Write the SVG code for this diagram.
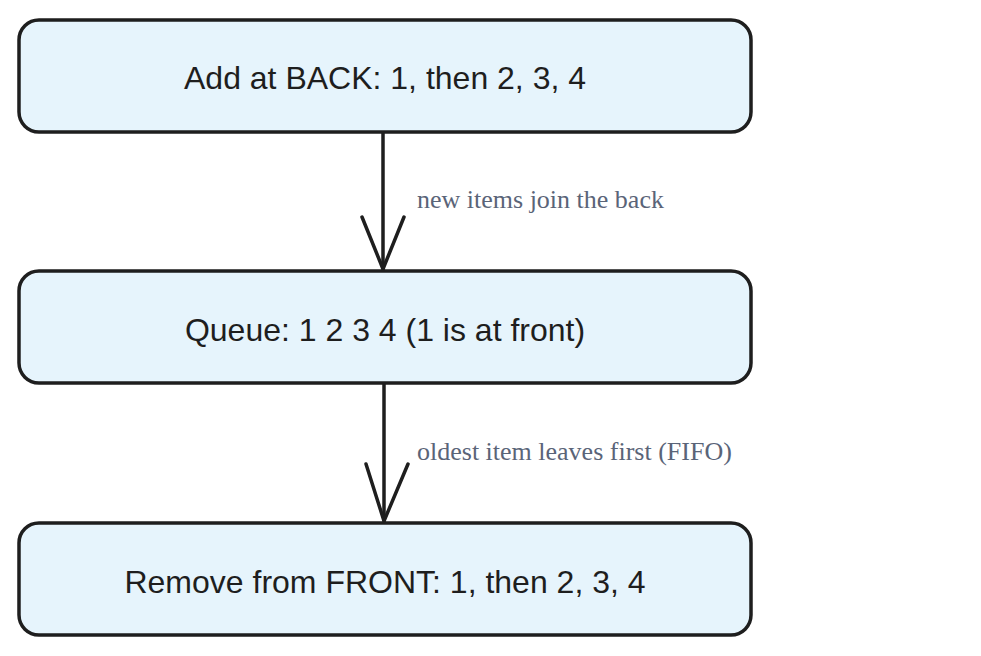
<svg xmlns="http://www.w3.org/2000/svg" width="981" height="656" viewBox="0 0 981 656">
<style>
.box{fill:#e6f4fc;stroke:#1e1e1e;stroke-width:3.5;stroke-linejoin:round;stroke-linecap:round}
.t{font-family:"Liberation Sans",Arial,sans-serif;font-size:32px;fill:#1e1e1e;text-anchor:middle}
.lbl{font-family:"Liberation Serif","Times New Roman",serif;font-size:26px;fill:#5a6478}
.ln{fill:none;stroke:#1e1e1e;stroke-width:3.5;stroke-linecap:round;stroke-linejoin:round}
</style>
<rect width="981" height="656" fill="#ffffff"/>
<g id="connectors">
<g id="e1">
<path class="ln" d="M383 132 L383 269"/>
<path class="ln" d="M362 217 L383 269 L404 217"/>
<text class="lbl" x="417" y="208">new items join the back</text>
</g>
<g id="e2">
<path class="ln" d="M384 382 L384 521"/>
<path class="ln" d="M366 464 L384 521 L408 464"/>
<text class="lbl" x="417" y="460">oldest item leaves first (FIFO)</text>
</g>
</g>
<g id="n1">
<rect class="box" x="19" y="20" width="732" height="112" rx="20"/>
<text class="t" x="385" y="89">Add at BACK: 1, then 2, 3, 4</text>
</g>
<g id="n2">
<rect class="box" x="19" y="271" width="732" height="112" rx="20"/>
<text class="t" x="385" y="341">Queue: 1 2 3 4 (1 is at front)</text>
</g>
<g id="n3">
<rect class="box" x="19" y="523" width="732" height="112" rx="20"/>
<text class="t" x="385" y="593">Remove from FRONT: 1, then 2, 3, 4</text>
</g>
</svg>
